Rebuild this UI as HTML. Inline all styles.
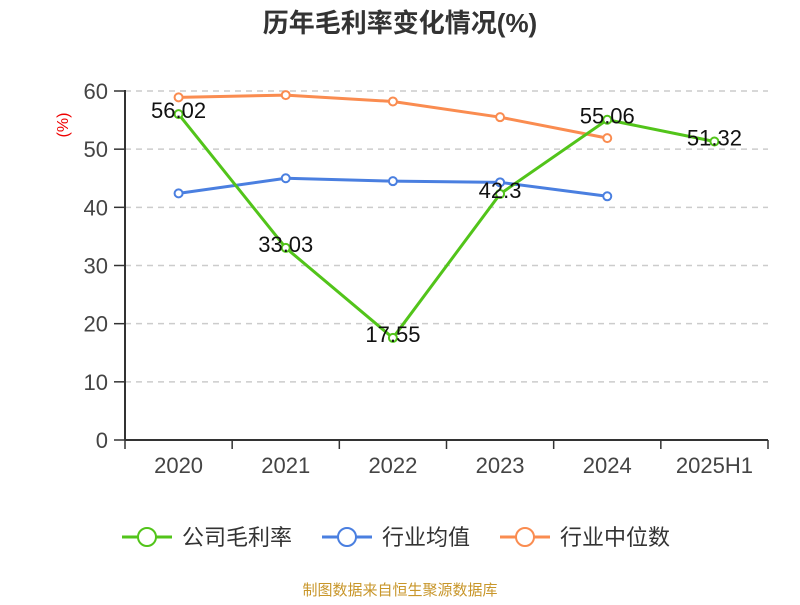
<!DOCTYPE html>
<html><head><meta charset="utf-8"><style>
body{margin:0;background:#fff;font-family:"Liberation Sans","Noto Sans CJK SC",sans-serif}
</style></head><body>
<svg width="800" height="600" xmlns="http://www.w3.org/2000/svg" font-family="Liberation Sans, Noto Sans CJK SC, sans-serif">
<text x="400" y="32" text-anchor="middle" font-size="26" font-weight="bold" fill="#333">历年毛利率变化情况(%)</text>
<text transform="translate(68,125) rotate(-90)" text-anchor="middle" font-size="16" fill="#e00">(%)</text>
<g id="grid"></g><g id="axes"></g><g id="series"></g><g id="labels"></g>
<g>
<g><line x1="122" y1="537" x2="172" y2="537" stroke="#52c41a" stroke-width="3"/><circle cx="147" cy="537" r="9" fill="#fff" stroke="#52c41a" stroke-width="2"/><text x="182" y="545" font-size="22" fill="#333">公司毛利率</text></g>
<g><line x1="322" y1="537" x2="372" y2="537" stroke="#4a7fe0" stroke-width="3"/><circle cx="347" cy="537" r="9" fill="#fff" stroke="#4a7fe0" stroke-width="2"/><text x="382" y="545" font-size="22" fill="#333">行业均值</text></g>
<g><line x1="500" y1="537" x2="550" y2="537" stroke="#fa8c50" stroke-width="3"/><circle cx="525" cy="537" r="9" fill="#fff" stroke="#fa8c50" stroke-width="2"/><text x="560" y="545" font-size="22" fill="#333">行业中位数</text></g>
</g>
<text x="400" y="595" text-anchor="middle" font-size="15" fill="#c8962a">制图数据来自恒生聚源数据库</text>
</svg>
<script>
const categories=["2020","2021","2022","2023","2024","2025H1"];
const company=[56.02,33.03,17.55,42.3,55.06,51.32];
const industryAvg=[42.4,45.0,44.5,44.3,41.9];
const industryMedian=[58.9,59.3,58.2,55.5,51.9];
const yTicks=[0,10,20,30,40,50,60];
const NS="http://www.w3.org/2000/svg";
const x0=125,x1=768,y0=440,y1=91;
const bw=(x1-x0)/categories.length;
const X=i=>x0+bw*(i+0.5);
const Y=v=>y0-(v/60)*(y0-y1);
function mk(p,t,a){const e=document.createElementNS(NS,t);for(const k in a)e.setAttribute(k,a[k]);document.getElementById(p).appendChild(e);return e;}
yTicks.forEach(v=>{
 if(v>0){const g=mk("grid","line",{x1:x0,x2:x1,y1:Y(v),y2:Y(v),stroke:"#ccc","stroke-dasharray":"6,5","stroke-width":1.5});
 
 }
 mk("axes","line",{x1:114,x2:x0,y1:Y(v),y2:Y(v),stroke:"#333","stroke-width":1.5});
 const t=mk("axes","text",{x:108,y:Y(v)+8,"text-anchor":"end","font-size":22,fill:"#444"});t.textContent=v;
 
 
});
mk("axes","line",{x1:x0,x2:x0,y1:y1-1,y2:y0,stroke:"#333","stroke-width":2});
mk("axes","line",{x1:x0,x2:x1,y1:y0,y2:y0,stroke:"#333","stroke-width":2});
for(let i=0;i<=categories.length;i++)mk("axes","line",{x1:x0+bw*i,x2:x0+bw*i,y1:y0,y2:y0+9,stroke:"#333","stroke-width":1.5});
categories.forEach((c,i)=>{const t=mk("axes","text",{x:X(i),y:473,"text-anchor":"middle","font-size":22,fill:"#444"});t.textContent=c;
 
 });
function series(vals,color,name){
 const pts=vals.map((v,i)=>X(i)+","+Y(v)).join(" ");
 const l=mk("series","polyline",{points:pts,fill:"none",stroke:color,"stroke-width":3});
 
 
 vals.forEach((v,i)=>{const c=mk("series","circle",{cx:X(i),cy:Y(v),r:4,fill:"#fff",stroke:color,"stroke-width":2});
 
 });
}
series(industryMedian,"#fa8c50","industry-median");
series(industryAvg,"#4a7fe0","industry-avg");
series(company,"#52c41a","company");
company.forEach((v,i)=>{const t=mk("labels","text",{x:X(i),y:Y(v)+4,"text-anchor":"middle","font-size":22,fill:"#111"});t.textContent=v;
 
 });
</script>
</body></html>
